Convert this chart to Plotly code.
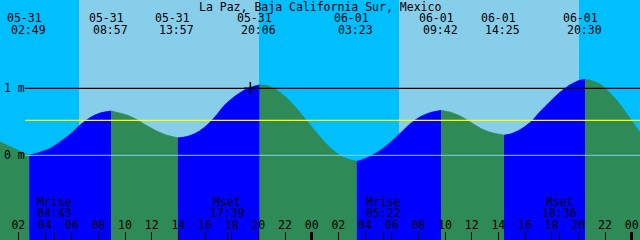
import plotly.graph_objects as go

# ---------------- data ----------------
title = "La Paz, Baja California Sur, Mexico"
day_labels = ["05-31", "06-01"]

extreme_days = [0, 0, 0, 0, 1, 1, 1, 1]
extreme_times = ["02:49", "08:57", "13:57", "20:06", "03:23", "09:42", "14:25", "20:30"]
extreme_levels = [0.00, 0.66, 0.26, 1.05, -0.09, 0.67, 0.30, 1.13]

moon_names = ["Mrise", "Mset", "Mrise", "Mset"]
moon_days = [0, 0, 1, 1]
moon_times = ["04:43", "17:39", "05:22", "18:36"]

sun_days = [0, 1]
sunrise_times = ["06:33", "06:33"]
sunset_times = ["20:03", "20:03"]

# tide heights (hours since 05-31 00:00, metres)
curve_hours = [0.625, 1.375, 2.125, 3.625, 4.375, 5.125, 5.875, 6.625, 7.375, 8.125,
               9.4, 10.15, 10.9, 11.65, 12.4, 13.15,
               14.65, 15.4, 16.15, 16.9, 17.425, 18.175, 18.925, 19.675,
               20.65, 21.4, 22.15, 22.9, 23.65, 24.4, 24.925, 25.45, 26.2, 26.95,
               27.7, 28.45, 29.2, 29.95, 30.7, 31.45, 32.2, 32.95,
               34.45, 35.2, 35.95, 36.7, 37.45, 38.2,
               38.95, 39.7, 40.45, 41.125, 41.875, 42.625, 43.375, 44.125,
               44.875, 45.625, 46.375, 47.125, 47.875, 48.625]
curve_levels = [0.20, 0.13, 0.06, 0.045, 0.10, 0.20, 0.31, 0.45, 0.56, 0.63,
                0.64, 0.60, 0.53, 0.44, 0.36, 0.30,
                0.28, 0.34, 0.45, 0.61, 0.74, 0.87, 0.97, 1.03,
                1.04, 0.97, 0.85, 0.69, 0.51, 0.33, 0.21, 0.10, -0.01, -0.07,
                -0.075, -0.01, 0.08, 0.20, 0.34, 0.48, 0.58, 0.64,
                0.64, 0.58, 0.49, 0.40, 0.34, 0.31,
                0.32, 0.39, 0.50, 0.65, 0.80, 0.94, 1.05, 1.12,
                1.12, 1.06, 0.93, 0.76, 0.55, 0.34]

mean_level = 0.52
ref_levels = [1.0, 0.0]
ref_labels = ["1 m", "0 m"]
now_hour = 19.4
now_level = 1.0

tick_hours = list(range(2, 50, 2))
tick_text = [f"{h % 24:02d}" for h in tick_hours]
midnight_hours = [24, 48]

# ---------------- style ----------------
NIGHT = "#00BFFF"
DAY = "#87CEEB"
RISE = "#0000FF"
FALL = "#2E8B57"
FONT = dict(family="DejaVu Sans Mono", size=11.5, color="black")
X_RANGE = [0.625, 48.625]
Y_RANGE = [-1.264, 2.318]
W, H = 640, 240


def to_hours(day, hhmm):
    h, m = hhmm.split(":")
    return day * 24 + int(h) + int(m) / 60.0


ext_hours = [to_hours(d, t) for d, t in zip(extreme_days, extreme_times)]
moon_hours = [to_hours(d, t) for d, t in zip(moon_days, moon_times)]

pts = sorted(list(zip(curve_hours, curve_levels)) + list(zip(ext_hours, extreme_levels)))

fig = go.Figure()

bounds = [X_RANGE[0]] + ext_hours + [X_RANGE[1]]
for b0, b1 in zip(bounds[:-1], bounds[1:]):
    seg = [p for p in pts if b0 - 1e-9 <= p[0] <= b1 + 1e-9]
    if len(seg) < 2:
        continue
    xs = [p[0] for p in seg]
    ys = [p[1] for p in seg]
    rising = ys[-1] > ys[0]
    color = RISE if rising else FALL
    fig.add_trace(go.Scatter(x=[xs[0], xs[-1]], y=[Y_RANGE[0]] * 2, mode="lines",
                             line=dict(width=0), hoverinfo="skip", showlegend=False))
    fig.add_trace(go.Scatter(x=xs, y=ys, mode="lines", fill="tonexty", fillcolor=color,
                             line=dict(width=0.8, color=color, shape="spline", smoothing=0.8),
                             hoverinfo="skip", showlegend=False))

# "now" marker
fig.add_trace(go.Scatter(x=[now_hour], y=[now_level], mode="markers",
                         marker=dict(symbol="cross-thin", size=9,
                                     line=dict(width=1.5, color="black")),
                         hoverinfo="skip", showlegend=False))

# overlay axes for extra ticks
fig.add_trace(go.Scatter(x=midnight_hours, y=[now_level] * 2, xaxis="x2", mode="markers",
                         marker=dict(opacity=0), hoverinfo="skip", showlegend=False))
fig.add_trace(go.Scatter(x=moon_hours, y=[now_level] * len(moon_hours), xaxis="x3",
                         mode="markers", marker=dict(opacity=0), hoverinfo="skip",
                         showlegend=False))

shapes = []
for d, sr, ss in zip(sun_days, sunrise_times, sunset_times):
    shapes.append(dict(type="rect", xref="x", yref="paper", x0=to_hours(d, sr),
                       x1=to_hours(d, ss), y0=0, y1=1, fillcolor=DAY,
                       line=dict(width=0), layer="below"))
line_x0 = 25 / W
shapes.append(dict(type="line", xref="paper", yref="y", x0=line_x0, x1=1,
                   y0=ref_levels[0], y1=ref_levels[0], line=dict(color="black", width=1.3)))
shapes.append(dict(type="line", xref="paper", yref="y", x0=line_x0, x1=1,
                   y0=mean_level, y1=mean_level, line=dict(color="#FFFF00", width=1.3)))
shapes.append(dict(type="line", xref="paper", yref="y", x0=line_x0, x1=1,
                   y0=ref_levels[1], y1=ref_levels[1], line=dict(color=DAY, width=1)))

ann = []
ann.append(dict(text=title, xref="paper", yref="paper", x=0.5, y=1 - 6.5 / H,
                xanchor="center", yanchor="middle", showarrow=False, font=FONT))
for d, t, h in zip(extreme_days, extreme_times, ext_hours):
    ann.append(dict(text=day_labels[d], xref="x", yref="paper", x=h, y=1 - 18 / H,
                    xanchor="center", yanchor="middle", xshift=-5, showarrow=False, font=FONT))
    ann.append(dict(text=t, xref="x", yref="paper", x=h, y=1 - 29.5 / H,
                    xanchor="center", yanchor="middle", xshift=-1, showarrow=False, font=FONT))
for n, t, h in zip(moon_names, moon_times, moon_hours):
    ann.append(dict(text=n, xref="x", yref="paper", x=h, y=1 - 202 / H,
                    xanchor="center", yanchor="middle", showarrow=False, font=FONT))
    ann.append(dict(text=t, xref="x", yref="paper", x=h, y=1 - 213 / H,
                    xanchor="center", yanchor="middle", showarrow=False, font=FONT))
for lv, lb in zip(ref_levels, ref_labels):
    ann.append(dict(text=lb, xref="paper", yref="y", x=2 / W, y=lv,
                    xanchor="left", yanchor="middle", showarrow=False, font=FONT))

fig.update_layout(
    width=W, height=H, margin=dict(l=0, r=0, t=0, b=0),
    paper_bgcolor=NIGHT, plot_bgcolor=NIGHT,
    shapes=shapes, annotations=ann, showlegend=False,
    xaxis=dict(range=X_RANGE, showgrid=False, zeroline=False, showline=False,
               tickmode="array", tickvals=tick_hours, ticktext=tick_text,
               ticks="inside", ticklen=8, tickwidth=1, tickcolor="black",
               ticklabelposition="inside", ticklabeloverflow="allow",
               tickfont=FONT, fixedrange=True),
    xaxis2=dict(range=X_RANGE, overlaying="x", showgrid=False, zeroline=False,
                tickmode="array", tickvals=midnight_hours, ticks="inside", ticklen=8,
                tickwidth=3, tickcolor="black", showticklabels=False, side="bottom"),
    xaxis3=dict(range=X_RANGE, overlaying="x", showgrid=False, zeroline=False,
                tickmode="array", tickvals=moon_hours, ticks="inside", ticklen=8,
                tickwidth=1, tickcolor="black", showticklabels=False, side="bottom"),
    yaxis=dict(range=Y_RANGE, visible=False, fixedrange=True),
)

fig.write_html("out.html")
